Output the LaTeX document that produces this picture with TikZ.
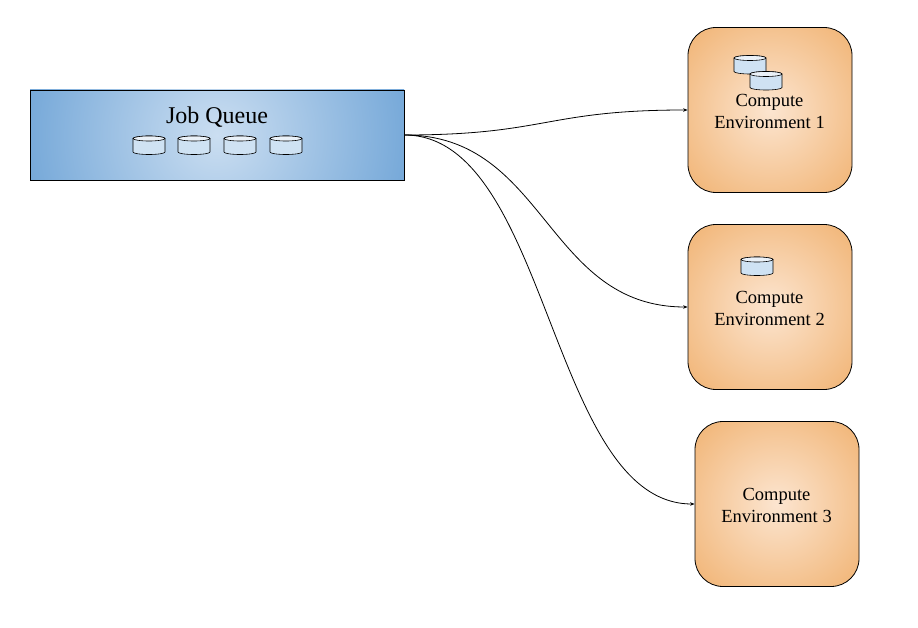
\documentclass[tikz,border=0pt]{standalone}
\usepackage{fontspec}
\setmainfont{Liberation Serif}
\usetikzlibrary{arrows.meta}
\definecolor{queueinner}{HTML}{CBDEF1}
\definecolor{queueouter}{HTML}{5F9AD2}
\definecolor{envinner}{HTML}{FCE5D0}
\definecolor{envouter}{HTML}{EDA355}
\definecolor{diskbody}{HTML}{CFE2F3}
\definecolor{disktop}{HTML}{EAF1F8}
\tikzset{
  queuebox/.style={draw,line width=.8pt,minimum width=374pt,minimum height=90pt,inner sep=0pt,
    path picture={\shade[inner color=queueinner,outer color=queueouter]
      (path picture bounding box.center) circle (245pt);}},
  envbox/.style={draw,line width=.8pt,rounded corners=28pt,minimum width=164pt,minimum height=165pt,
    inner sep=0pt,
    path picture={\shade[inner color=envinner,outer color=envouter]
      (path picture bounding box.center) circle (155pt);}},
  envlabel/.style={font=\fontsize{18.5}{22}\selectfont,align=center},
  link/.style={draw,-{Stealth[length=4.5pt,width=3.5pt]},line width=.8pt},
  disk/.pic={
    \draw[fill=diskbody,line width=.6pt] (-16,-6.5) -- (-16,7) arc (180:0:16 and 2.5)
      -- (16,-6.5) arc (0:-180:16 and 2.5) -- cycle;
    \draw[fill=disktop,line width=.6pt] (0,-6.5) ellipse (16 and 2.5);}
}
\begin{document}
\begin{tikzpicture}[x=1pt,y=-1pt]
  \useasboundingbox (0,0) rectangle (918,628);
  \node[queuebox] (queue) at (217,135) {};
  \node[font=\fontsize{24}{26}\selectfont] (queuelabel) at (217,117) {Job Queue};
  \foreach \x in {149,194,240,286}
    \pic at (\x,145) {disk};
  % compute environments, top to bottom
  \node[envbox] (env1) at (770,110) {};
  \node[envbox] (env2) at (770,307) {};
  \node[envbox] (env3) at (777,504) {};
  \node[envlabel] (env1label) at (769.5,111.5) {Compute\\Environment 1};
  \node[envlabel] (env2label) at (769.5,308.5) {Compute\\Environment 2};
  \node[envlabel] (env3label) at (776.5,505.5) {Compute\\Environment 3};
  \pic at (750,64.5) {disk};
  \pic at (766,80.5) {disk};
  \pic at (757,266) {disk};
  \draw[link] (queue.east) .. controls +(142,0) and +(-142,0) .. (env1.west);
  \draw[link] (queue.east) .. controls +(142,0) and +(-142,0) .. (env2.west);
  \draw[link] (queue.east) .. controls +(145,0) and +(-145,0) .. (env3.west);
\end{tikzpicture}
\end{document}
